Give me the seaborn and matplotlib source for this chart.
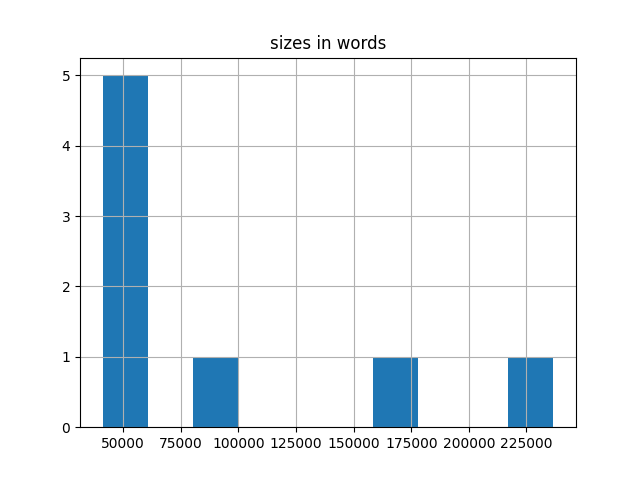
import matplotlib
matplotlib.use("Agg")
import matplotlib.pyplot as plt
import seaborn as sns

# word counts per document
sizes = [41000, 45200, 48900, 52300, 57800, 91500, 166400, 236700]
title = "sizes in words"

fig, ax = plt.subplots(figsize=(6.4, 4.8), dpi=100)
sns.histplot(x=sizes, bins=10, ax=ax, color="#1f77b4", alpha=1, linewidth=0)
ax.grid(True)
ax.set_title(title)
ax.set_xlabel("")
ax.set_ylabel("")
fig.savefig("out.png", dpi=100)
